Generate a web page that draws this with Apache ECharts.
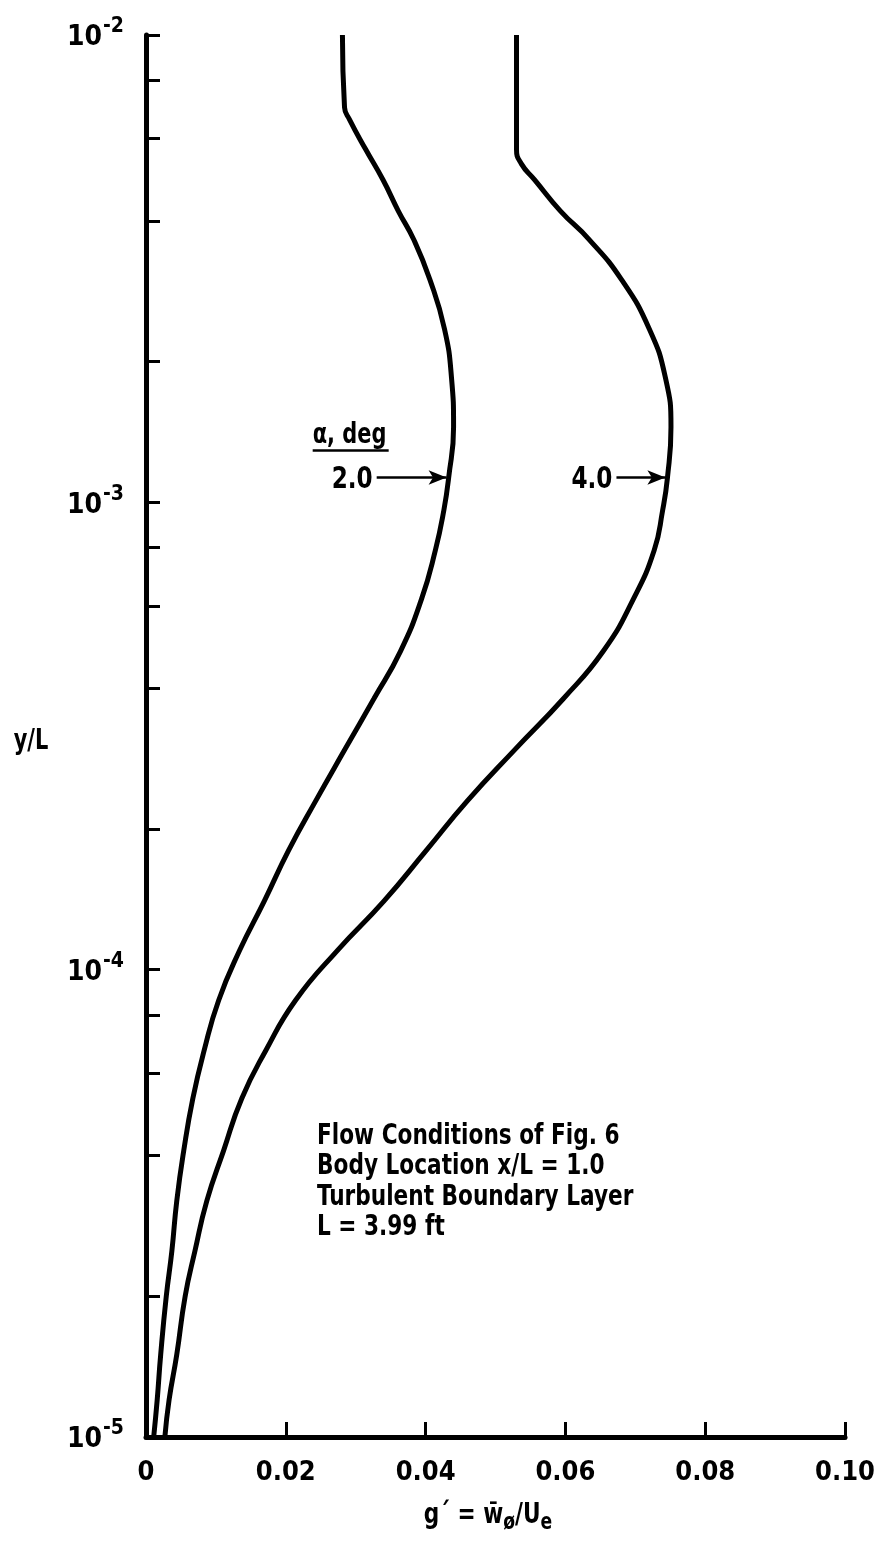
<!DOCTYPE html>
<html>
<head>
<meta charset="utf-8">
<script src="https://cdn.jsdelivr.net/npm/echarts@6/dist/echarts.min.js"></script>
<style>
html,body{margin:0;padding:0;background:#fff;}
#chart{width:878px;height:1546px;}
</style>
</head>
<body>
<div id="chart"></div>
<script>
// ---- data ----
const xTickValues = [0, 0.02, 0.04, 0.06, 0.08, 0.10];
const xTickLabels = ['0', '0.02', '0.04', '0.06', '0.08', '0.10'];
const yDecades = [-5, -4, -3, -2];             // labels 10^n
const yMinorMultipliers = [1, 2, 4, 6, 8];     // tick marks per decade

// alpha = 2.0 deg
const yAlpha2 = [1e-2, 7.0e-3, 6.6e-3, 5.7e-3, 4.9e-3, 4.2e-3, 3.65e-3, 3.0e-3, 2.35e-3, 1.85e-3, 1.45e-3, 1.13e-3, 9.6e-4, 7.9e-4, 6.2e-4, 4.8e-4, 3.8e-4, 2.95e-4, 2.3e-4, 1.8e-4, 1.4e-4, 1.1e-4, 8.6e-5, 6.7e-5, 5.3e-5, 4.1e-5, 3.2e-5, 2.5e-5, 2.0e-5, 1.5e-5, 1.2e-5, 1e-5];
const gAlpha2 = [0.0281, 0.0284, 0.0291, 0.0314, 0.0339, 0.0361, 0.0383, 0.0406, 0.0427, 0.0437, 0.0440, 0.0433, 0.0426, 0.0414, 0.0394, 0.0364, 0.0326, 0.0284, 0.0243, 0.0204, 0.0169, 0.0134, 0.0104, 0.0083, 0.0067, 0.0054, 0.0044, 0.0037, 0.0029, 0.0021, 0.0016, 0.0011];

// alpha = 4.0 deg
const yAlpha4 = [1e-2, 5.7e-3, 5.3e-3, 4.9e-3, 4.2e-3, 3.65e-3, 3.0e-3, 2.35e-3, 1.85e-3, 1.45e-3, 1.13e-3, 9.6e-4, 7.9e-4, 6.2e-4, 4.8e-4, 3.8e-4, 2.95e-4, 2.3e-4, 1.8e-4, 1.4e-4, 1.1e-4, 8.6e-5, 6.7e-5, 5.3e-5, 4.1e-5, 3.2e-5, 2.5e-5, 2.0e-5, 1.5e-5, 1.2e-5, 1e-5];
const gAlpha4 = [0.0530, 0.0530, 0.0537, 0.0556, 0.0593, 0.0634, 0.0680, 0.0720, 0.0743, 0.0751, 0.0746, 0.0739, 0.0727, 0.0697, 0.0654, 0.0597, 0.0527, 0.0460, 0.0401, 0.0340, 0.0274, 0.0214, 0.0171, 0.0137, 0.0111, 0.0087, 0.0070, 0.0056, 0.0044, 0.0033, 0.0027];

// arrows pointing at the curves: [gStart, gEnd, y]
const arrow2 = [0.0330, 0.0430, 1.13e-3];
const arrow4 = [0.0673, 0.0743, 1.13e-3];

const FONT = "'Liberation Sans Narrow','DejaVu Sans Condensed','Liberation Sans',sans-serif";

const yTickLogs = [];
yDecades.forEach(d => {
  yMinorMultipliers.forEach(m => {
    const v = d + Math.log10(m);
    if (v <= -2 + 1e-9) yTickLogs.push(v);
  });
});

const chart = echarts.init(document.getElementById('chart'), null, {renderer: 'canvas'});

function pairs(xs, ys) { return xs.map((x, i) => [x, ys[i]]); }

const option = {
  backgroundColor: '#fff',
  animation: false,
  grid: {left: 146, right: 32, top: 35, bottom: 109, containLabel: false},
  xAxis: {
    type: 'value', min: 0, max: 0.1, interval: 0.02,
    axisLine: {show: true, lineStyle: {color: '#000', width: 5}},
    axisTick: {show: true, inside: true, length: 15, lineStyle: {color: '#000', width: 3}},
    axisLabel: {
      margin: 22, color: '#000', fontFamily: FONT, fontWeight: 'bold', fontSize: 27,
      formatter: v => { const i = xTickValues.findIndex(t => Math.abs(t - v) < 1e-9); return i >= 0 ? xTickLabels[i] : ''; }
    },
    splitLine: {show: false}
  },
  yAxis: [
    {
      type: 'log', min: 1e-5, max: 1e-2, logBase: 10, show: false
    },
    {
      type: 'value', min: -5, max: -2, position: 'left',
      axisLine: {show: true, onZero: false, lineStyle: {color: '#000', width: 5}},
      axisTick: {show: true, inside: true, length: 14, customValues: yTickLogs, lineStyle: {color: '#000', width: 3}},
      axisLabel: {
        margin: 22, color: '#000', customValues: yDecades,
        formatter: v => '{b|10}{s|' + Math.round(v) + '}',
        rich: {
          b: {fontFamily: FONT, fontWeight: 'bold', fontSize: 28, color: '#000', padding: [6, 0, 0, 0]},
          s: {fontFamily: FONT, fontWeight: 'bold', fontSize: 21, color: '#000', padding: [0, 0, 16, 1]}
        }
      },
      splitLine: {show: false}
    }
  ],
  series: [
    {
      name: 'alpha 2.0', type: 'line', yAxisIndex: 0, data: pairs(gAlpha2, yAlpha2),
      showSymbol: false, smooth: 0.5, lineStyle: {color: '#000', width: 5}, silent: true,
      markLine: {
        silent: true, animation: false, symbol: ['none', 'arrow'], symbolSize: [11, 18],
        lineStyle: {color: '#000', width: 2.5, type: 'solid'}, label: {show: false},
        data: [[{coord: [arrow2[0], arrow2[2]]}, {coord: [arrow2[1], arrow2[2]]}]]
      }
    },
    {
      name: 'alpha 4.0', type: 'line', yAxisIndex: 0, data: pairs(gAlpha4, yAlpha4),
      showSymbol: false, smooth: 0.5, lineStyle: {color: '#000', width: 5}, silent: true,
      markLine: {
        silent: true, animation: false, symbol: ['none', 'arrow'], symbolSize: [11, 18],
        lineStyle: {color: '#000', width: 2.5, type: 'solid'}, label: {show: false},
        data: [[{coord: [arrow4[0], arrow4[2]]}, {coord: [arrow4[1], arrow4[2]]}]]
      }
    }
  ]
};
chart.setOption(option);

// annotations, anchored through the chart's own coordinate conversion
const p2 = chart.convertToPixel({xAxisIndex: 0, yAxisIndex: 0}, [arrow2[0], arrow2[2]]);
const p4 = chart.convertToPixel({xAxisIndex: 0, yAxisIndex: 0}, [arrow4[0], arrow4[2]]);
const SX = 0.83;
const txt = (x, y, text, size, align) => ({
  type: 'text', x: x, y: y, scaleX: SX, silent: true,
  style: {text: text, fill: '#000', font: 'bold ' + size + 'px ' + FONT, textAlign: align || 'left', textVerticalAlign: 'middle'}
});
const infoLines = ['Flow Conditions of Fig. 6', 'Body Location x/L = 1.0', 'Turbulent Boundary Layer', 'L = 3.99 ft'];

const graphics = [
  txt(p2[0] - 4, p2[1] + 2, '2.0', 31, 'right'),
  txt(p4[0] - 4, p4[1] + 2, '4.0', 31, 'right'),
  txt(p2[0] - 64, p2[1] - 42, 'α, deg', 28, 'left'),
  {type: 'line', silent: true, shape: {x1: p2[0] - 64, y1: p2[1] - 27, x2: p2[0] + 12, y2: p2[1] - 27}, style: {stroke: '#000', lineWidth: 2.5}},
  txt(31, 742, 'y/L', 28, 'center'),
  {
    type: 'text', x: 488, y: 1515, scaleX: SX, silent: true,
    style: {
      text: '{m|g´ = w̄}{s|ø}{m|/U}{s|e}', textAlign: 'center', textVerticalAlign: 'middle',
      rich: {
        m: {fontFamily: FONT, fontWeight: 'bold', fontSize: 29, color: '#000'},
        s: {fontFamily: FONT, fontWeight: 'bold', fontSize: 23, color: '#000', padding: [16, 0, 0, 0]}
      }
    }
  }
];
infoLines.forEach((t, i) => graphics.push(txt(317, 1136 + i * 30.5, t, 29, 'left')));
chart.setOption({graphic: graphics});
</script>
</body>
</html>
